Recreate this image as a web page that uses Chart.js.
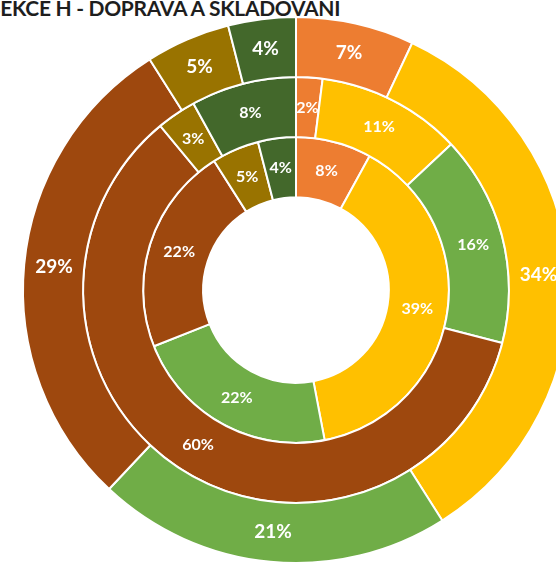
<!DOCTYPE html>
<html>
<head>
<meta charset="utf-8">
<script src="https://cdn.jsdelivr.net/npm/chart.js@4.4.1/dist/chart.umd.min.js"></script>
<style>
    html, body { margin: 0; padding: 0; background: #fff; overflow: hidden; width: 556px; height: 564px; }
    #nadpis { position: absolute; top: -3px; left: -11px; font: bold 21px Lato, sans-serif; letter-spacing: -0.3px; color: #1e1e1e; white-space: nowrap; line-height: 21px; }
    #obal { position: absolute; left: 0; top: 16px; width: 592px; height: 548px; }
</style>
</head>
<body>
<div id="nadpis">SEKCE H - DOPRAVA A SKLADOVÁNÍ</div>
<div id="obal"><canvas id="graf" width="592" height="548"></canvas></div>
<script>
// kategorie (barvy odpovidaji poradi)
const kategorie = ['Kategorie 1', 'Kategorie 2', 'Kategorie 3', 'Kategorie 4', 'Kategorie 5', 'Kategorie 6']
const barvy = ['#ED7D31', '#FFC000', '#70AD47', '#9E480E', '#997300', '#43682B']

// hodnoty v %, od vnejsiho kruhu k vnitrnimu
const vnejsiKruh = [7, 34, 21, 29, 5, 4]
const stredniKruh = [2, 11, 16, 60, 3, 8]
const vnitrniKruh = [8, 39, 22, 22, 5, 4]

const popisky = {
    id: 'popisky',
    afterDatasetsDraw(chart) {
        const ctx = chart.ctx
        ctx.save()
        ctx.fillStyle = '#fff'
        ctx.textAlign = 'center'
        ctx.textBaseline = 'middle'
        chart.data.datasets.forEach((ds, i) => {
            const meta = chart.getDatasetMeta(i)
            ctx.font = i == 0 ? 'bold 19px Lato, sans-serif' : 'bold 16px Lato, sans-serif'
            meta.data.forEach((arc, j) => {
                const p = arc.tooltipPosition()
                ctx.fillText(ds.data[j] + '%', p.x, p.y)
            })
        })
        ctx.restore()
    }
}

const sada = (nazev, data) => ({
    label: nazev,
    data: data,
    backgroundColor: barvy,
    borderColor: '#fff',
    borderWidth: 2,
    hoverOffset: 0
})

new Chart(document.getElementById('graf'), {
    type: 'doughnut',
    data: {
        labels: kategorie,
        datasets: [
            sada('Vnější', vnejsiKruh),
            sada('Střední', stredniKruh),
            sada('Vnitřní', vnitrniKruh)
        ]
    },
    options: {
        responsive: false,
        animation: false,
        cutout: '34%',
        layout: { padding: 0 },
        plugins: {
            legend: { display: false },
            title: { display: false },
            tooltip: { enabled: false }
        }
    },
    plugins: [popisky]
})
</script>
</body>
</html>
